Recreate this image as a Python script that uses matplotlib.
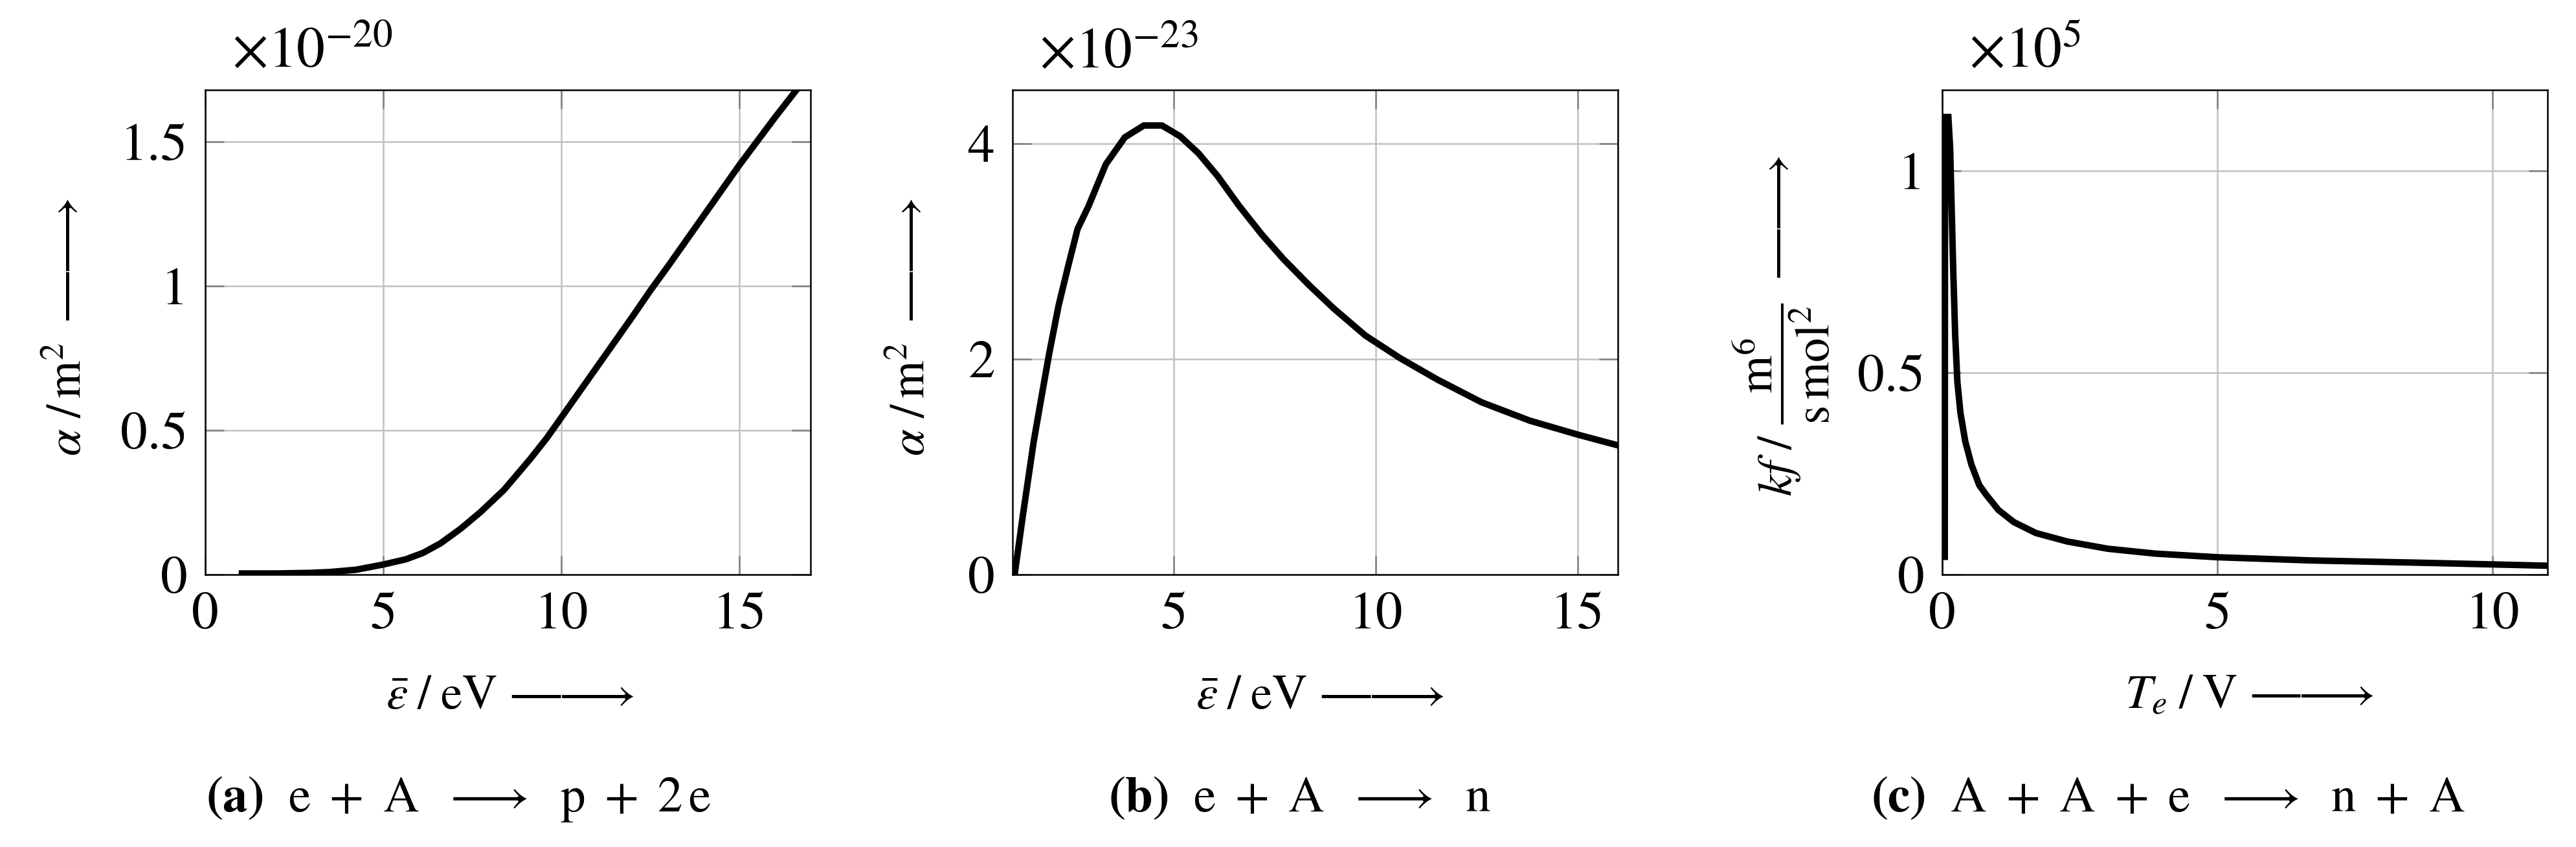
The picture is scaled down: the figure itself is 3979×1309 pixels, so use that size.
import matplotlib
matplotlib.use("Agg")
import matplotlib.pyplot as plt

# --- data ---
# (a) e + A -> p + 2e, cross section in units of 1e-20 m^2
eps_a = [1.03, 2.0, 2.94, 3.5, 4.24, 5.0, 5.63, 6.11, 6.6, 7.17, 7.74, 8.39, 9.12,
         9.6, 10.0, 11.0, 12.0, 12.5, 13.0, 14.0, 15.0, 16.0, 16.6]
alpha_a = [0.004, 0.004, 0.006, 0.009, 0.017, 0.035, 0.053, 0.075, 0.108, 0.159, 0.218,
           0.294, 0.40, 0.475, 0.545, 0.72, 0.895, 0.985, 1.07, 1.245, 1.42, 1.585, 1.68]

# (b) e + A -> n, cross section in units of 1e-23 m^2
eps_b = [1.05, 1.25, 1.52, 1.72, 1.91, 2.14, 2.38, 2.61, 2.88, 3.31, 3.78, 4.25, 4.70,
         5.15, 5.61, 6.08, 6.62, 7.17, 7.71, 8.34, 8.96, 9.74, 10.6, 11.53, 12.62,
         13.81, 15.0, 16.0]
alpha_b = [0.0, 0.54, 1.23, 1.66, 2.06, 2.50, 2.87, 3.21, 3.42, 3.81, 4.06, 4.17, 4.17,
           4.07, 3.91, 3.70, 3.42, 3.16, 2.93, 2.69, 2.47, 2.22, 2.01, 1.81, 1.60,
           1.43, 1.30, 1.20]

# (c) A + A + e -> n + A, rate coefficient in units of 1e5 m^6/(s mol^2)
te_c = [0.045, 0.05, 0.11, 0.143, 0.171, 0.2, 0.234, 0.274, 0.33, 0.417, 0.53, 0.67,
        0.79, 1.02, 1.30, 1.70, 2.27, 3.01, 3.87, 5.0, 6.72, 8.82, 11.0]
kf_c = [0.044, 1.133, 1.133, 1.055, 0.90, 0.747, 0.593, 0.477, 0.40, 0.33, 0.272, 0.222,
        0.199, 0.16, 0.13, 0.103, 0.082, 0.064, 0.052, 0.043, 0.035, 0.029, 0.022]

plt.rcParams["font.family"] = "STIXGeneral"
plt.rcParams["mathtext.fontset"] = "stix"

# long arrow used in the axis labels (minus signs stretch the shaft)
ARROW = r"{-}\!\!{-}\!\!{\longrightarrow}"

fig = plt.figure(figsize=(3979 / 300, 1309 / 300), dpi=300)

panels = [
    dict(x=eps_a, y=alpha_a, left=0.0797, xlim=(0, 17), ylim=(0, 1.68),
         xticks=[0, 5, 10, 15], yticks=[0, 0.5, 1, 1.5], mult=r"$\times10^{-20}$",
         xlabel=r"$\bar{\varepsilon}\;/\;\mathrm{eV}\ " + ARROW + "$", xlx=0.2985,
         ylabel=r"$\alpha\ /\,\mathrm{m}^2\ \," + ARROW + "$", ylx=-0.205, yly=0.244,
         caption=r"$\mathbf{(a)}\ \ \mathrm{e}\ +\ \mathrm{A}\ \ \longrightarrow\ \ \mathrm{p}\ +\ 2\,\mathrm{e}$",
         capx=318),
    dict(x=eps_b, y=alpha_b, left=0.3931, xlim=(1, 16), ylim=(0, 4.5),
         xticks=[5, 10, 15], yticks=[0, 2, 4], mult=r"$\times10^{-23}$",
         xlabel=r"$\bar{\varepsilon}\;/\;\mathrm{eV}\ " + ARROW + "$", xlx=0.303,
         ylabel=r"$\alpha\ /\,\mathrm{m}^2\ \," + ARROW + "$", ylx=-0.146, yly=0.244,
         caption=r"$\mathbf{(b)}\ \ \mathrm{e}\ +\ \mathrm{A}\ \ \longrightarrow\ \ \mathrm{n}$",
         capx=1712),
    dict(x=te_c, y=kf_c, left=0.7540, xlim=(0, 11), ylim=(0, 1.2),
         xticks=[0, 5, 10], yticks=[0, 0.5, 1], mult=r"$\times10^{5}$",
         xlabel=r"$T_e\;/\;\mathrm{V}\ " + ARROW + "$", xlx=0.301,
         ylabel=r"$kf\ /\ \dfrac{\mathrm{m}^6}{\mathrm{s\,mol}^2}\ \," + ARROW + "$",
         ylx=-0.248, yly=0.162,
         caption=r"$\mathbf{(c)}\ \ \mathrm{A}\ +\ \mathrm{A}\ +\ \mathrm{e}\ \ \longrightarrow\ \ \mathrm{n}\ +\ \mathrm{A}$",
         capx=2890),
]

for p in panels:
    ax = fig.add_axes([p["left"], 0.3216, 0.2350, 0.5722])
    ax.plot(p["x"], p["y"], color="black", linewidth=2.4, solid_joinstyle="miter")
    ax.set_xlim(*p["xlim"])
    ax.set_ylim(*p["ylim"])
    ax.set_xticks(p["xticks"])
    ax.set_yticks(p["yticks"])
    ax.set_xticklabels([f"{t:g}" for t in p["xticks"]])
    ax.set_yticklabels([f"{t:g}" for t in p["yticks"]])
    ax.grid(True, color="#c0c0c0", linewidth=0.6)
    ax.set_axisbelow(True)
    ax.tick_params(direction="in", top=True, right=True, length=7, width=0.6,
                   color="0.5", labelsize=20, pad=6.5)
    for s in ax.spines.values():
        s.set_linewidth(0.6)
        s.set_zorder(3)

    ax.set_xlabel(p["xlabel"], fontsize=18, va="baseline", ha="left")
    ax.xaxis.set_label_coords(p["xlx"], -0.276)
    ax.set_ylabel(p["ylabel"], fontsize=18, va="baseline", ha="left")
    ax.yaxis.set_label_coords(p["ylx"], p["yly"])

    ax.text(0.044, 1.047, p["mult"], transform=ax.transAxes, fontsize=21,
            ha="left", va="baseline")
    fig.text(p["capx"] / 3979, 1 - 1254 / 1309, p["caption"], fontsize=18.5,
             ha="left", va="baseline")

fig.savefig("out.png", dpi=300)
